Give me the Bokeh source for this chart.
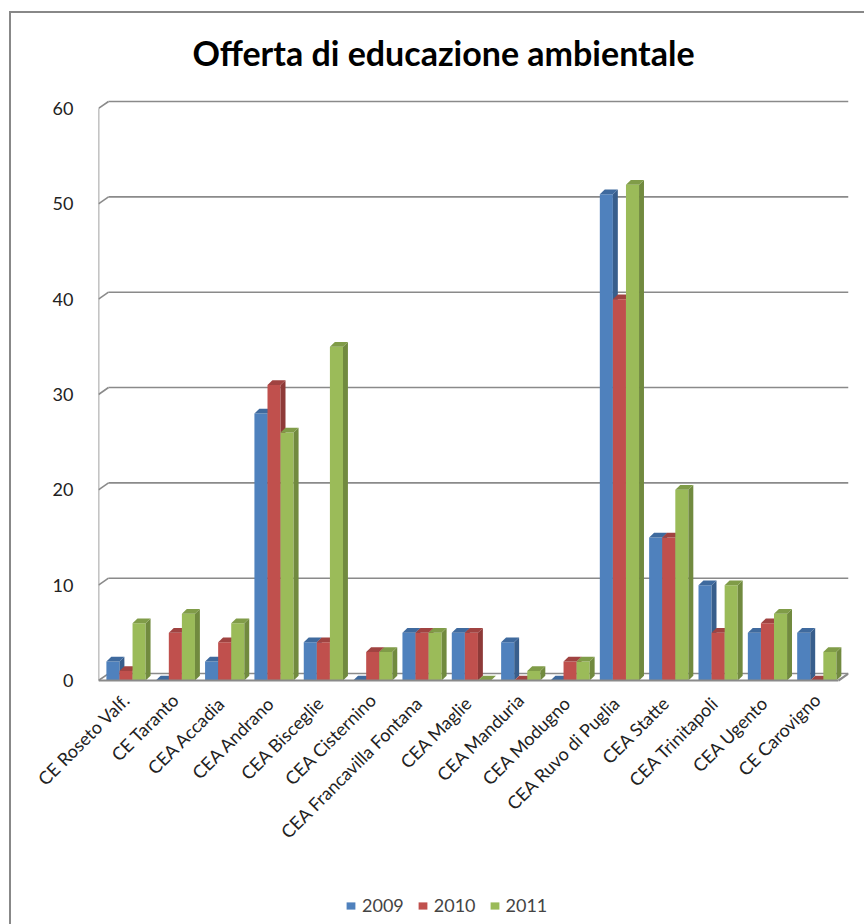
import math
from bokeh.plotting import figure
from bokeh.layouts import column
from bokeh.models import (Range1d, FixedTicker, Legend, LegendItem, Label)
from bokeh.embed import file_html
from bokeh.resources import INLINE

# ---------------- data ----------------
categories = ["CE Roseto Valf.", "CE Taranto", "CEA  Accadia", "CEA  Andrano",
              "CEA  Bisceglie", "CEA Cisternino", "CEA  Francavilla Fontana",
              "CEA  Maglie", "CEA Manduria", "CEA  Modugno", "CEA  Ruvo di Puglia",
              "CEA  Statte", "CEA  Trinitapoli", "CEA  Ugento", "CE Carovigno"]
years = ["2009", "2010", "2011"]
v2009 = [2, 0, 2, 28, 4, 0, 5, 5, 4, 0, 51, 15, 10, 5, 5]
v2010 = [1, 5, 4, 31, 4, 3, 5, 5, 0, 2, 40, 15, 5, 6, 0]
v2011 = [6, 7, 6, 26, 35, 3, 5, 0, 1, 2, 52, 20, 10, 7, 3]
y_ticks = [0, 10, 20, 30, 40, 50, 60]
title_text = "Offerta di educazione ambientale"

series = [v2009, v2010, v2011]
front_colors = ["#4F81BD", "#C0504D", "#9BBB59"]
side_colors = ["#385E8C", "#8E3A38", "#718A3F"]
top_colors = ["#3F6A9E", "#A04341", "#809C48"]

FONT = "Lato"
X0, X1 = -0.56, 14.64
BW = 0.265          # bar width
DX, DY = 0.10, 0.50  # bar depth
BDX, BDY = 0.203, 0.73  # wall depth
GRID = "#8A8A8A"
W = 853

# ---------------- title strip (frame aligned with main frame: page x 98..848) ----
pt = figure(width=W, height=70, x_range=Range1d(98, 848), y_range=Range1d(0, 70),
            output_backend="svg", toolbar_location=None, min_border=0,
            x_axis_location=None, y_axis_location=None,
            outline_line_color=None, title=None)
pt.grid.visible = False
pt.add_layout(Label(x=443, y=31, text=title_text, text_align="center",
                    text_baseline="middle", text_font=FONT, text_font_style="bold",
                    text_font_size="34px", text_color="#000000"))

# ---------------- main chart ----------------
p = figure(width=W, height=797, x_range=Range1d(X0, X1),
           y_range=Range1d(-0.42, 61.36), output_backend="svg",
           toolbar_location=None, min_border_left=87, min_border_right=16,
           min_border_top=12, min_border_bottom=196, outline_line_color=None,
           title=None)
p.xgrid.visible = False
p.ygrid.visible = False

n = len(y_ticks)
p.segment(x0=[X0 + BDX] * n, y0=[t + BDY for t in y_ticks], x1=[X1] * n,
          y1=[t + BDY for t in y_ticks], line_color=GRID, line_width=1.6)
p.segment(x0=[X0] * n, y0=y_ticks, x1=[X0 + BDX] * n,
          y1=[t + BDY for t in y_ticks], line_color=GRID, line_width=1.6)
p.segment(x0=[X0], y0=[0], x1=[X0], y1=[y_ticks[-1]], line_color=GRID, line_width=1.6)

for j, vals in enumerate(series):
    lefts = [i - 0.40 + j * BW for i in range(len(categories))]
    rights = [l + BW for l in lefts]
    p.quad(left=lefts, right=rights, bottom=0, top=vals,
           fill_color=front_colors[j], line_color=None)
    p.patches(xs=[[rr, rr + DX, rr + DX, rr] for rr in rights],
              ys=[[0, DY, v + DY, v] for v in vals],
              fill_color=side_colors[j], line_color=None)
    p.patches(xs=[[l, l + DX, rr + DX, rr] for l, rr in zip(lefts, rights)],
              ys=[[v, v + DY, v + DY, v] for v in vals],
              fill_color=top_colors[j], line_color=None)

p.segment(x0=[X0, X1 - BDX], y0=[0, 0], x1=[X1 - BDX, X1], y1=[0, BDY],
          line_color=GRID, line_width=2.2)

p.yaxis.ticker = FixedTicker(ticks=y_ticks)
p.yaxis.axis_line_color = None
p.yaxis.major_tick_line_color = None
p.yaxis.minor_tick_line_color = None
p.yaxis.major_label_standoff = 19
p.yaxis.major_label_text_font = FONT
p.yaxis.major_label_text_font_size = "18px"
p.yaxis.major_label_text_color = "#222222"

p.xaxis.ticker = FixedTicker(ticks=list(range(len(categories))))
p.xaxis.major_label_overrides = {i: c for i, c in enumerate(categories)}
p.xaxis.major_label_orientation = math.pi / 4
p.xaxis.axis_line_color = None
p.xaxis.major_tick_line_color = None
p.xaxis.minor_tick_line_color = None
p.xaxis.major_label_standoff = 6
p.xaxis.major_label_text_font = FONT
p.xaxis.major_label_text_font_size = "18px"
p.xaxis.major_label_text_color = "#222222"

# ---------------- legend strip ----------------
pl = figure(width=W, height=44, x_range=Range1d(98, 848), y_range=Range1d(0, 44),
            output_backend="svg", toolbar_location=None, min_border=0,
            x_axis_location=None, y_axis_location=None,
            outline_line_color=None, title=None)
pl.grid.visible = False
items = []
for j, y in enumerate(years):
    # zero-size proxy glyph, only used to give the legend its swatch colour
    r = pl.quad(left=[0], right=[0], bottom=[-10], top=[-10],
                fill_color=front_colors[j], line_color=None)
    items.append(LegendItem(label=y, renderers=[r]))
legend = Legend(items=items, orientation="horizontal", location=(247, 8),
                glyph_width=11, glyph_height=9, label_text_font=FONT,
                label_text_font_size="18px", label_standoff=6, spacing=13,
                border_line_color=None, background_fill_alpha=0, padding=2, margin=0)
pl.add_layout(legend, "center")

layout = column(pt, p, pl, spacing=0)
layout.margin = (11, 0, 0, 9)
layout.styles = {"border-left": "2px solid #888888", "border-top": "2px solid #888888"}

open("out.html", "w").write(file_html(layout, INLINE))
